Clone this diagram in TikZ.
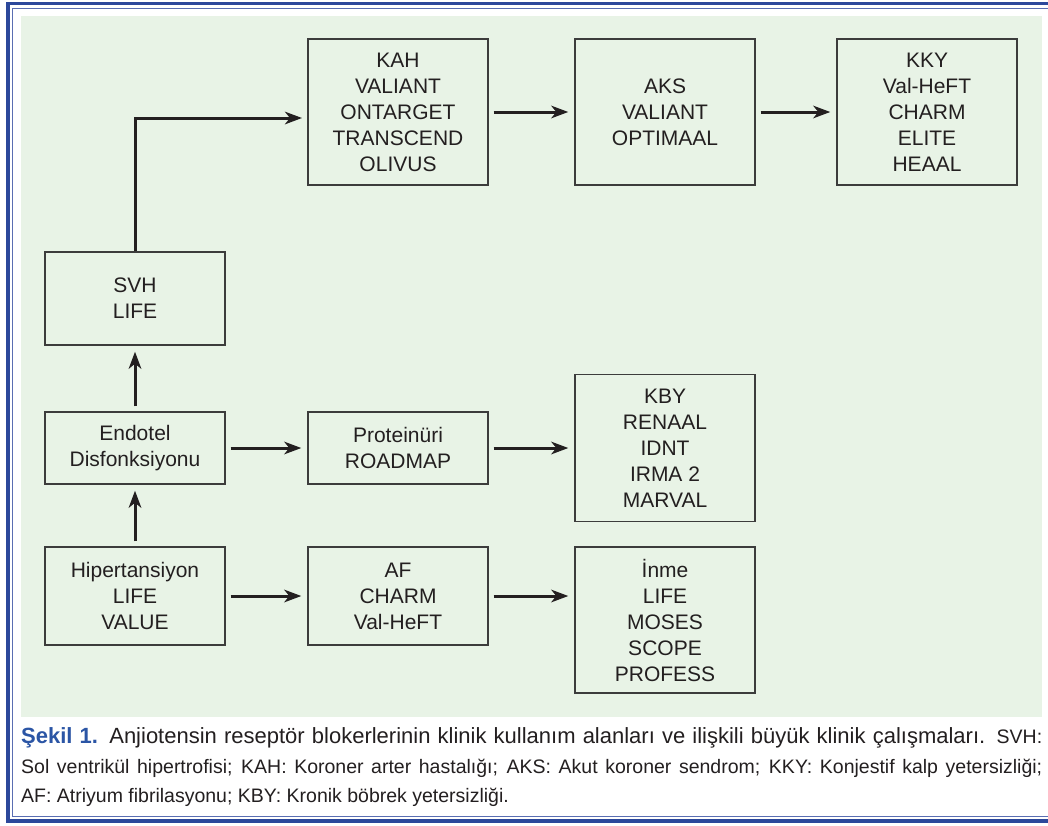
\documentclass[tikz,border=0pt]{standalone}
\usepackage{fontspec}
\setmainfont{Liberation Sans}
\usetikzlibrary{arrows.meta}
\definecolor{panel}{RGB}{232,243,230}
\definecolor{frameblue}{RGB}{44,72,155}
\definecolor{frameblue2}{RGB}{90,110,178}
\definecolor{capblue}{RGB}{43,85,165}
\definecolor{ink}{RGB}{35,31,32}
\definecolor{boxline}{RGB}{60,60,60}
\begin{document}
\begin{tikzpicture}[x=1pt,y=-1pt,
  box/.style={draw=boxline, line width=1.4pt, text=ink, align=center,
    minimum width=180pt, inner sep=0pt, font=\fontsize{21}{26}\selectfont},
  arr/.style={draw=ink, line width=3pt,
    -{Stealth[length=17pt,width=12.5pt,inset=5pt]},
    shorten <=5pt, shorten >=6pt},
  capline/.style={anchor=base west, inner sep=0pt, text=ink}]
\useasboundingbox (0,0) rectangle (1048,825);
\fill[white] (0,0) rectangle (1048,825);
\fill[panel] (21,16) rectangle (1042,717);
% frame
\draw[frameblue, line width=3.5pt] (1048,3.5) -- (8,3.5) -- (8,821) -- (1048,821);
\draw[frameblue2, line width=1pt] (1048,8.5) -- (12.5,8.5) -- (12.5,816) -- (1048,816);
% boxes
\node[box, minimum height=146pt] (kah) at (398,112) {KAH\\VALIANT\\ONTARGET\\TRANSCEND\\OLIVUS};
\node[box, minimum height=146pt] (aks) at (665,112) {AKS\\VALIANT\\OPTIMAAL};
\node[box, minimum height=146pt] (kky) at (927,112) {KKY\\Val-HeFT\\CHARM\\ELITE\\HEAAL};
\node[box, minimum height=93pt] (svh) at (135,298.5) {SVH\\LIFE};
\node[box, minimum height=72pt] (endo) at (135,448) {Endotel\\Disfonksiyonu};
\node[box, minimum height=72pt] (prot) at (398,448) {Proteinüri\\ROADMAP};
\node[box, minimum height=147pt] (kby) at (665,448) {KBY\\RENAAL\\IDNT\\IRMA 2\\MARVAL};
\node[box, minimum height=98pt] (hip) at (135,596) {Hipertansiyon\\LIFE\\VALUE};
\node[box, minimum height=98pt] (af) at (398,596) {AF\\CHARM\\Val-HeFT};
\node[box, minimum height=146pt] (inme) at (665,620) {İnme\\LIFE\\MOSES\\SCOPE\\PROFESS};
% connectors
\coordinate (kin) at (308,118);
\draw[arr, shorten <=0pt] (svh.north) |- (kin);
\draw[arr] (kah) -- (aks);
\draw[arr] (aks) -- (kky);
\draw[arr] (endo) -- (svh);
\draw[arr] (hip) -- (endo);
\draw[arr] (endo) -- (prot);
\draw[arr] (prot) -- (kby);
\draw[arr] (hip) -- (af);
\draw[arr] (af.east) -- (af.east -| inme.west);
% caption
\node[capline] (cap1) at (21,743) {\makebox[1021pt][s]{\fontsize{22}{26}\selectfont\textcolor{capblue}{\textbf{Şekil 1.}} Anjiotensin reseptör blokerlerinin klinik kullanım alanları ve ilişkili büyük klinik çalışmaları. \fontsize{19.5}{23}\selectfont SVH:}};
\node[capline] (cap2) at (21,773) {\makebox[1021pt][s]{\fontsize{19.5}{23}\selectfont Sol ventrikül hipertrofisi; KAH: Koroner arter hastalığı; AKS: Akut koroner sendrom; KKY: Konjestif kalp yetersizliği;}};
\node[capline] (cap3) at (21,802) {\fontsize{19.5}{23}\selectfont AF: Atriyum fibrilasyonu; KBY: Kronik böbrek yetersizliği.};
\end{tikzpicture}
\end{document}
